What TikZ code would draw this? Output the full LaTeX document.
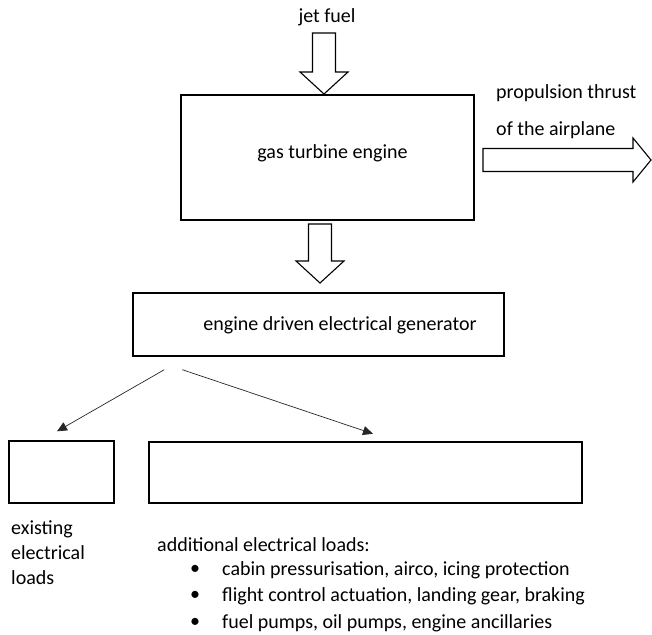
\documentclass[tikz,border=0pt]{standalone}
\usepackage{fontspec}
\setmainfont{Carlito}
\usetikzlibrary{arrows.meta,calc}

\begin{document}
\begin{tikzpicture}[x=1pt, y=-1pt, inner sep=1pt, font=\fontsize{20}{25}\selectfont,
      box/.style={draw, line width=1.4pt},
      fat/.style={draw, line width=1.1pt, miter limit=20},
      feed/.style={draw=black!85, line width=0.7pt, -{Triangle[length=10pt, width=9pt]}}]
      \useasboundingbox (0,0) rectangle (652,634);
      % engine and its in/outputs
      \node (fuel) at (327,17) {jet fuel};
      \node[box, minimum width=293, minimum height=125] (engine) at (327.5,157.5) {};
      \node (enginename) at (332.5,153) {gas turbine engine};
      \coordinate (fueltip) at (324,94);
      \draw[fat] (fueltip) -- ++(-24,-22) -- ++(12.5,0) -- ++(0,-39) -- ++(23,0) -- ++(0,39) -- ++(12.5,0) -- cycle;
      \node[anchor=west] (thrust) at (495,93) {propulsion thrust};
      \node[anchor=west] (plane) at (495,130) {of the airplane};
      \coordinate (thrusttip) at (651,160);
      \draw[fat] (thrusttip) -- ++(-18,-22) -- ++(0,10.5) -- ++(-150,0) -- ++(0,23) -- ++(150,0) -- ++(0,10.5) -- cycle;
      % generator
      \coordinate (shafttip) at (320,283);
      \draw[fat] (shafttip) -- ++(-24,-22) -- ++(12.5,0) -- ++(0,-37) -- ++(23,0) -- ++(0,37) -- ++(12.5,0) -- cycle;
      \node[box, minimum width=371, minimum height=63] (gen) at (318.5,324.5) {};
      \node (genname) at (340,325) {engine driven electrical generator};
      % loads
      \node[box, minimum width=105, minimum height=62] (oldloads) at (61.5,472) {};
      \node[box, minimum width=433, minimum height=61] (newloads) at (365.5,472.5) {};
      \draw[feed] ($(gen.south west)+(32,13)$) -- ($(oldloads.north)+(-4.5,-9)$);
      \draw[feed] ($(gen.south west)+(50,13)$) -- ($(newloads.north)+(7.5,-7.5)$);
      \node[anchor=north west, align=left] (oldtext) at (10,519) {existing\\electrical\\loads};
      \node[anchor=west] (newtext) at (156,545) {additional electrical loads:};
      \node (dot1) at (195,570) {\textbullet};
      \node[anchor=west] (load1) at (221,570) {cabin pressurisation, airco, icing protection};
      \node (dot2) at (195,596) {\textbullet};
      \node[anchor=west] (load2) at (221,596) {flight control actuation, landing gear, braking};
      \node (dot3) at (195,623) {\textbullet};
      \node[anchor=west] (load3) at (221,623) {fuel pumps, oil pumps, engine ancillaries};
   \end{tikzpicture}
\end{document}
